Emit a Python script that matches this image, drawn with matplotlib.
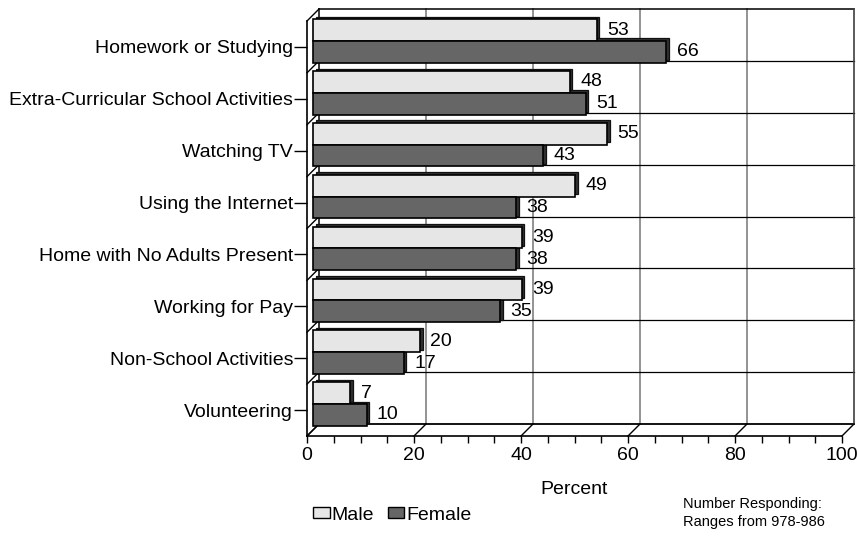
import matplotlib
matplotlib.use('Agg')
import matplotlib.pyplot as plt
from matplotlib.transforms import ScaledTranslation, IdentityTransform
from matplotlib.lines import Line2D
from matplotlib.patches import Patch
import numpy as np

categories = ["Homework or Studying", "Extra-Curricular School Activities",
              "Watching TV", "Using the Internet", "Home with No Adults Present",
              "Working for Pay", "Non-School Activities", "Volunteering"]
male = [53, 48, 55, 49, 39, 39, 20, 7]
female = [66, 51, 43, 38, 38, 35, 17, 10]
xticks = [0, 20, 40, 60, 80, 100]
series_names = ["Male", "Female"]
xlabel = "Percent"
note = "Number Responding:\nRanges from 978-986"

W, H, DPI = 857, 536, 100
plt.rcParams['font.family'] = ['Liberation Sans', 'DejaVu Sans']
FS = 14

fig = plt.figure(figsize=(W / DPI, H / DPI), dpi=DPI)
L, R, T, B = 307, 842, 21, 436
ax = fig.add_axes([L / W, 1 - B / H, (R - L) / W, (B - T) / H])
n = len(categories)
ax.set_xlim(0, 100)
ax.set_ylim(n - 0.5, -0.5)
ax.patch.set_visible(False)

DEPTH = 12


def shift(px):
    return ax.transData + ScaledTranslation(px / DPI, px / DPI, fig.dpi_scale_trans)


back = shift(DEPTH)
kw = dict(clip_on=False, solid_capstyle='projecting')

# back wall
for g in xticks[1:-1]:
    ax.plot([g, g], [-0.5, n - 0.5], color='#808080', lw=1.2, transform=back, zorder=1, **kw)
for b in np.arange(0.5, n - 0.5, 1):
    ax.plot([0, 100], [b, b], color='k', lw=0.9, transform=back, zorder=1, **kw)
ax.plot([0, 100], [-0.5, -0.5], color='k', lw=1.1, transform=back, zorder=1, **kw)
ax.plot([0, 100], [n - 0.5, n - 0.5], color='k', lw=1.3, transform=back, zorder=1, **kw)
ax.plot([100, 100], [-0.5, n - 0.5], color='#404040', lw=1.2, transform=back, zorder=1, **kw)
ax.plot([0, 0], [-0.5, n - 0.5], color='k', lw=1.1, transform=back, zorder=1, **kw)

# diagonals (left wall and floor)
fig.canvas.draw()


def diag(x, y, color='k', lw=1.0):
    p = ax.transData.transform((x, y))
    ax.add_line(Line2D([p[0], p[0] + DEPTH], [p[1], p[1] + DEPTH],
                       transform=IdentityTransform(), color=color, lw=lw,
                       clip_on=False, zorder=1))


for b in np.arange(-0.5, n, 1):
    diag(0, b)
for g in xticks:
    diag(g, n - 0.5)

# bars
y = np.arange(n)
h = 0.42
barp = shift(6)
shadow = shift(8.5)
series = [(male, y - h / 2, '#e6e6e6'), (female, y + h / 2, '#666666')]
for vals, yy, col in series:
    ax.barh(yy, vals, height=h, color='#303030', edgecolor='#111111', lw=0.9,
            transform=shadow, clip_on=False, zorder=3)
for vals, yy, col in series:
    ax.barh(yy, vals, height=h, color=col, edgecolor='k', lw=1.2,
            transform=barp, clip_on=False, zorder=4)
    for v, yv in zip(vals, yy):
        ax.annotate(str(v), xy=(v, yv), xycoords=barp, xytext=(7.5, 0),
                    textcoords='offset points', ha='left', va='center',
                    fontsize=FS, zorder=5)

# spines and ticks
for s in ['top', 'right']:
    ax.spines[s].set_visible(False)
for s in ['left', 'bottom']:
    ax.spines[s].set_linewidth(1.2)
    ax.spines[s].set_zorder(2)
ax.set_xticks(xticks)
ax.set_xticklabels([str(t) for t in xticks], fontsize=FS)
ax.set_xticks(np.arange(0, 101, 5), minor=True)
ax.tick_params(axis='x', which='both', direction='out', length=5, width=1.0, pad=3)
ax.set_yticks(y)
ax.set_yticklabels(categories, fontsize=FS)
ax.tick_params(axis='y', direction='out', length=9.5, width=1.0, pad=0.5)

fig.text((L + R) / 2 / W, 1 - 490 / H, xlabel, ha='center', va='center', fontsize=FS)
fig.text(683 / W, 1 - 513 / H, note, ha='left', va='center', fontsize=10.5, linespacing=1.4)

handles = [Patch(facecolor=series[0][2], edgecolor='k', lw=1.0),
           Patch(facecolor=series[1][2], edgecolor='k', lw=1.0)]
fig.legend(handles, series_names, loc='center left', bbox_to_anchor=(313 / W, 1 - 515 / H),
           ncol=2, frameon=False, fontsize=FS, handlelength=0.85, handleheight=0.5,
           handletextpad=0.1, columnspacing=0.7, borderpad=0, borderaxespad=0)

fig.savefig('out.png', dpi=DPI)
